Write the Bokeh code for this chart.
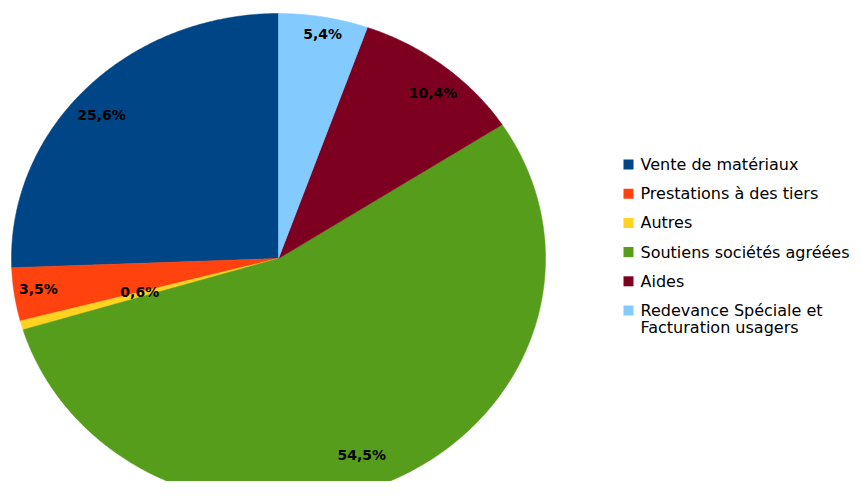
import numpy as np
from bokeh.plotting import figure
from bokeh.models import Range1d, ColumnDataSource
from bokeh.core.properties import value
from bokeh.embed import file_html
from bokeh.resources import INLINE

categories = ["Vente de matériaux", "Prestations à des tiers", "Autres",
              "Soutiens sociétés agréées", "Aides",
              "Redevance Spéciale et\nFacturation usagers"]
shares = [25.6, 3.5, 0.6, 54.5, 10.4, 5.4]
labels = ["25,6%", "3,5%", "0,6%", "54,5%", "10,4%", "5,4%"]
colors = ["#004586", "#ff420e", "#ffd320", "#579d1c", "#7e0021", "#83caff"]

# styling / geometry (pixel-like data space, y downward)
cx, cy, ax_r, by_r = 278.0, 258.0, 267.0, 245.0
label_rf = [0.885, 0.908, 0.537, 0.861, 0.89, 0.933]
label_dt = [-2.4, 0.5, 1.2, 3.8, 2.4, 0.5]

p = figure(width=853, height=481, output_backend="svg", toolbar_location=None,
           x_range=Range1d(0, 853), y_range=Range1d(481, 0),
           x_axis_location=None, y_axis_location=None, min_border=0)
p.grid.visible = False
p.outline_line_color = None
p.background_fill_color = "white"

# slices go counter-clockwise from 12 o'clock in legend order
total = float(sum(shares))
xs, ys, lx, ly = [], [], [], []
end = 360.0
for i, s in enumerate(shares):
    span = s / total * 360.0
    start = end - span
    t = np.radians(np.linspace(start, end, max(int(span * 2), 4)))
    px = np.concatenate([[cx], cx + ax_r * np.sin(t)])
    py = np.concatenate([[cy], cy - by_r * np.cos(t)])
    xs.append(list(px))
    ys.append(list(py))
    mid = np.radians((start + end) / 2 + label_dt[i])
    lx.append(cx + label_rf[i] * ax_r * np.sin(mid))
    ly.append(cy - label_rf[i] * by_r * np.cos(mid))
    end = start

src = ColumnDataSource(dict(xs=xs, ys=ys, color=colors))
p.patches("xs", "ys", fill_color="color", line_color="color", line_width=0.5, source=src)

p.text(x=lx, y=ly, text=labels, text_font=value("DejaVu Sans"), text_font_style="bold",
       text_font_size="14px", text_color="black", text_align="center",
       text_baseline="middle")

# legend
row0, drow = 164.0, 29.2
rows = [row0 + i * drow for i in range(len(categories))]
p.scatter(x=[628] * len(categories), y=rows, marker="square", size=10,
          fill_color=colors, line_color=None)
p.text(x=[640] * len(categories), y=[r - 9.5 for r in rows], text=categories,
       text_font=value("DejaVu Sans"), text_font_size="16px", text_color="black",
       text_align="left", text_baseline="top", text_line_height=0.92)

open("out.html", "w").write(file_html(p, INLINE))
